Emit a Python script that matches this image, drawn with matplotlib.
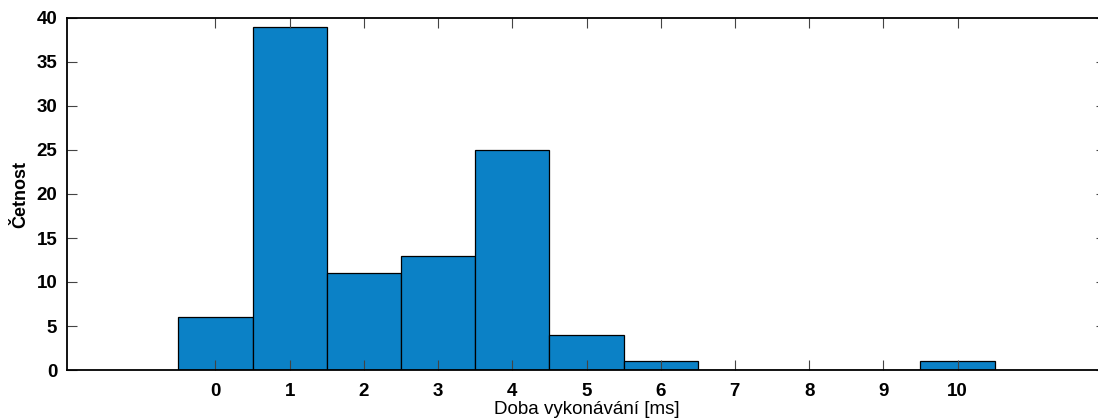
import matplotlib
matplotlib.use("Agg")
import matplotlib.pyplot as plt

# histogram data
bin_centers = [0, 1, 2, 3, 4, 5, 6, 7, 8, 9, 10]
counts = [6, 39, 11, 13, 25, 4, 1, 0, 0, 0, 1]
x_ticks = [0, 1, 2, 3, 4, 5, 6, 7, 8, 9, 10]
y_ticks = [0, 5, 10, 15, 20, 25, 30, 35, 40]

plt.rcParams['font.family'] = ['Liberation Sans', 'DejaVu Sans']

fig = plt.figure(figsize=(10.98, 4.19), dpi=100)
ax = fig.add_axes([67 / 1098, 1 - 370 / 419, 1039 / 1098, 352 / 419])

ax.bar(bin_centers, counts, width=1.0, color='#0b81c6',
       edgecolor='black', linewidth=0.9)

ax.set_xlim(-2, 12)
ax.set_ylim(0, 40)
ax.set_xticks(x_ticks)
ax.set_yticks(y_ticks)
ax.tick_params(direction='in', length=7, width=0.8, color='#444444',
               top=True, right=True, labelsize=13.5)
ax.tick_params(axis='x', pad=9)
ax.tick_params(axis='y', pad=7)
for lbl in ax.get_xticklabels() + ax.get_yticklabels():
    lbl.set_fontweight('bold')
for sp in ax.spines.values():
    sp.set_linewidth(1.3)

ax.set_xlabel('Doba vykonávání [ms]', fontsize=13.5, labelpad=1)
ax.set_ylabel('Četnost', fontsize=13, fontweight='bold', labelpad=5)

fig.savefig('out.png', dpi=100)
